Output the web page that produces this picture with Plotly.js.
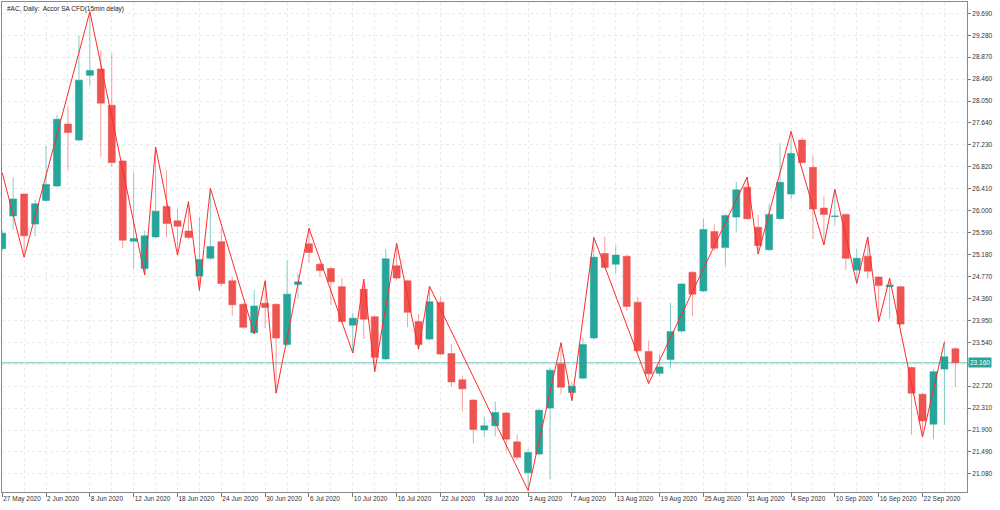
<!DOCTYPE html>
<html><head><meta charset="utf-8">
<script src="https://cdn.plot.ly/plotly-3.0.1.min.js"></script>
<style>html,body{margin:0;padding:0;background:#fff;}#chart{width:1000px;height:510px;}</style>
</head><body><div id="chart"></div>
<script>
const chartTitle = "#AC, Daily:  Accor SA CFD(15min delay)";
const dates = [
"27 May 2020","28 May 2020","29 May 2020",
"1 Jun 2020","2 Jun 2020","3 Jun 2020","4 Jun 2020","5 Jun 2020",
"8 Jun 2020","9 Jun 2020","10 Jun 2020","11 Jun 2020","12 Jun 2020",
"15 Jun 2020","16 Jun 2020","17 Jun 2020","18 Jun 2020","19 Jun 2020",
"22 Jun 2020","23 Jun 2020","24 Jun 2020","25 Jun 2020","26 Jun 2020",
"29 Jun 2020","30 Jun 2020","1 Jul 2020","2 Jul 2020","3 Jul 2020",
"6 Jul 2020","7 Jul 2020","8 Jul 2020","9 Jul 2020","10 Jul 2020",
"13 Jul 2020","14 Jul 2020","15 Jul 2020","16 Jul 2020","17 Jul 2020",
"20 Jul 2020","21 Jul 2020","22 Jul 2020","23 Jul 2020","24 Jul 2020",
"27 Jul 2020","28 Jul 2020","29 Jul 2020","30 Jul 2020","31 Jul 2020",
"3 Aug 2020","4 Aug 2020","5 Aug 2020","6 Aug 2020","7 Aug 2020",
"10 Aug 2020","11 Aug 2020","12 Aug 2020","13 Aug 2020","14 Aug 2020",
"17 Aug 2020","18 Aug 2020","19 Aug 2020","20 Aug 2020","21 Aug 2020",
"24 Aug 2020","25 Aug 2020","26 Aug 2020","27 Aug 2020","28 Aug 2020",
"31 Aug 2020","1 Sep 2020","2 Sep 2020","3 Sep 2020","4 Sep 2020",
"7 Sep 2020","8 Sep 2020","9 Sep 2020","10 Sep 2020","11 Sep 2020",
"14 Sep 2020","15 Sep 2020","16 Sep 2020","17 Sep 2020","18 Sep 2020",
"21 Sep 2020","22 Sep 2020","23 Sep 2020","24 Sep 2020","25 Sep 2020"];
const openPrices = [25.29,25.90,26.31,25.75,26.19,26.46,27.62,27.32,28.53,28.65,27.97,26.93,25.43,24.92,25.51,26.08,25.81,25.62,24.78,25.11,25.42,24.69,24.25,23.72,24.27,24.25,23.50,24.62,25.38,25.00,24.92,24.58,23.86,24.53,24.02,23.23,24.97,24.69,23.93,23.60,24.29,23.33,22.84,22.46,21.90,21.98,22.22,21.68,21.10,21.45,22.31,23.14,22.60,22.87,23.62,25.20,25.00,25.15,24.29,23.37,22.96,23.22,23.75,24.85,24.50,25.61,25.31,25.88,26.44,25.69,25.27,25.85,26.31,27.32,26.81,26.05,25.89,25.93,24.89,25.15,24.76,24.58,24.58,23.07,22.57,22.01,23.04,23.42];
const highPrices = [25.63,26.62,26.33,26.20,27.21,27.79,27.94,29.28,29.71,29.00,28.94,26.95,26.72,25.63,27.19,26.76,26.03,26.17,25.88,26.42,25.67,24.77,24.27,24.52,24.69,24.27,25.07,24.82,25.67,25.02,24.94,24.74,24.09,24.72,24.04,25.28,25.39,24.71,24.07,24.59,24.39,23.51,22.91,22.48,22.14,22.44,22.24,21.81,21.55,22.30,23.07,23.53,22.79,23.62,25.50,25.51,25.35,25.17,24.38,23.57,23.32,24.28,24.64,24.87,25.85,25.75,25.93,26.54,26.63,25.92,26.13,27.26,27.48,27.37,27.04,26.28,26.40,25.95,25.28,25.51,24.77,24.74,24.60,23.09,22.59,23.04,23.55,23.45];
const lowPrices = [25.25,25.65,25.13,25.53,26.17,26.44,26.77,27.30,28.33,27.01,26.82,25.30,24.92,24.80,25.48,25.50,25.17,25.47,24.51,25.08,24.59,24.04,23.79,23.70,23.81,22.59,23.47,24.36,25.02,24.76,24.24,23.90,23.34,23.60,22.99,23.21,24.70,23.82,23.41,23.58,23.30,22.71,22.26,21.65,21.77,21.78,21.50,21.34,20.77,21.43,20.98,22.57,22.45,22.85,23.60,24.92,24.83,24.13,23.36,22.77,22.90,23.05,23.73,24.03,24.48,25.25,24.97,25.61,25.83,25.19,25.25,25.82,26.21,26.88,25.47,25.36,25.73,24.89,24.64,24.74,23.93,23.99,23.85,21.81,21.77,21.73,22.00,22.70];
const closePrices = [25.58,26.22,25.53,26.13,26.49,27.71,27.46,28.44,28.62,28.01,26.90,25.45,25.48,25.53,25.99,25.76,25.71,25.50,25.09,25.33,24.64,24.24,23.82,24.22,24.19,23.62,24.44,24.67,25.22,24.88,24.67,23.93,23.99,23.97,23.26,25.10,24.74,24.10,23.50,24.30,23.32,22.80,22.67,21.91,21.98,22.23,21.73,21.39,21.48,22.27,23.02,22.70,22.72,23.50,25.13,24.94,25.17,24.21,23.38,22.95,23.08,23.74,24.63,24.44,25.65,25.30,25.91,26.39,25.85,25.35,25.93,26.53,27.07,26.90,26.03,25.93,25.90,25.11,25.11,24.87,24.60,24.61,23.88,22.59,22.07,22.99,23.27,23.16];
const zigzagDates = ["27 May 2020","29 May 2020","8 Jun 2020","15 Jun 2020","16 Jun 2020","18 Jun 2020","19 Jun 2020","22 Jun 2020","23 Jun 2020","29 Jun 2020","30 Jun 2020","1 Jul 2020","6 Jul 2020","10 Jul 2020","13 Jul 2020","14 Jul 2020","16 Jul 2020","20 Jul 2020","21 Jul 2020","3 Aug 2020","6 Aug 2020","7 Aug 2020","11 Aug 2020","18 Aug 2020","31 Aug 2020","1 Sep 2020","4 Sep 2020","9 Sep 2020","10 Sep 2020","14 Sep 2020","15 Sep 2020","16 Sep 2020","17 Sep 2020","22 Sep 2020","24 Sep 2020"];
const zigzagPrices = [26.71,25.13,29.72,24.80,27.19,25.17,26.17,24.51,26.42,23.70,24.69,22.59,25.67,23.34,24.72,22.99,25.39,23.41,24.59,20.77,23.53,22.45,25.50,22.77,26.63,25.19,27.48,25.36,26.40,24.64,25.51,23.93,24.74,21.77,23.55];
const yTickValues = [29.69,29.28,28.87,28.46,28.05,27.64,27.23,26.82,26.41,26.00,25.59,25.18,24.77,24.36,23.95,23.54,23.13,22.72,22.31,21.90,21.49,21.08];
const yTickLabels = ["29.690","29.280","28.870","28.460","28.050","27.640","27.230","26.820","26.410","26.000","25.590","25.180","24.770","24.360","23.950","23.540","","22.720","22.310","21.900","21.490","21.080"];
const lastPrice = 23.16;
const lastPriceLabel = "23.160";

const barIndex = dates.map((d, i) => i);
const xTickVals = barIndex.filter(i => i % 4 === 0);
const xTickText = xTickVals.map(i => dates[i]);
const zigzagX = zigzagDates.map(d => dates.indexOf(d));

const GREEN = '#26a69a', RED = '#ef5350';
const font = {family: 'Liberation Sans, Arial, sans-serif', size: 6.5, color: '#333'};

const traces = [
  {
    type: 'candlestick', x: barIndex, open: openPrices, high: highPrices, low: lowPrices, close: closePrices,
    increasing: {line: {color: 'rgba(38,166,154,0.55)', width: 1}, fillcolor: GREEN},
    decreasing: {line: {color: 'rgba(239,83,80,0.55)', width: 1}, fillcolor: RED},
    whiskerwidth: 0, hoverinfo: 'none', showlegend: false
  },
  {
    type: 'scatter', mode: 'lines', x: zigzagX, y: zigzagPrices,
    line: {color: '#ff2a2a', width: 1}, hoverinfo: 'none', showlegend: false
  }
];

const gridStyle = {gridcolor: '#ebebeb', griddash: 'dot', gridwidth: 1};

const layout = {
  width: 1000, height: 510,
  margin: {l: 2, r: 33, t: 2, b: 18, pad: 0},
  paper_bgcolor: '#ffffff', plot_bgcolor: '#ffffff',
  showlegend: false,
  boxgap: 0.36, boxgroupgap: 0,
  font: font,
  xaxis: Object.assign({
    type: 'linear', range: [-0.02, 88.06], fixedrange: true,
    tickmode: 'array', tickvals: xTickVals, ticktext: xTickText,
    ticks: 'outside', ticklen: 4, tickcolor: '#777', tickwidth: 1,
    ticklabelposition: 'outside right', tickangle: 0, automargin: false,
    tickfont: font, showgrid: true,
    minor: Object.assign({tickmode: 'linear', tick0: 0, dtick: 2, showgrid: true, ticks: ''}, gridStyle),
    showline: true, linecolor: '#8a8a8a', linewidth: 1, mirror: true,
    zeroline: false, rangeslider: {visible: false}
  }, gridStyle),
  yaxis: Object.assign({
    side: 'right', range: [20.742, 29.901], fixedrange: true, automargin: false,
    tickmode: 'array', tickvals: yTickValues, ticktext: yTickLabels,
    ticks: 'outside', ticklen: 3, tickcolor: '#777', tickwidth: 1,
    tickfont: font, showgrid: true,
    showline: true, linecolor: '#8a8a8a', linewidth: 1, mirror: true,
    zeroline: false
  }, gridStyle),
  shapes: [{
    type: 'line', layer: 'below', xref: 'paper', x0: 0, x1: 1, yref: 'y', y0: lastPrice, y1: lastPrice,
    line: {color: '#93d7cf', width: 1.5}
  }],
  annotations: [
    {xref: 'paper', yref: 'paper', x: 0, y: 1, xanchor: 'left', yanchor: 'top', xshift: 3, yshift: -1,
     text: chartTitle, showarrow: false, font: {family: font.family, size: 6.5, color: '#222'}},
    {xref: 'paper', yref: 'y', x: 1, y: lastPrice, xanchor: 'left', yanchor: 'middle', xshift: 1,
     text: lastPriceLabel, showarrow: false, bgcolor: GREEN, borderpad: 1,
     font: {family: font.family, size: 6.5, color: '#ffffff'}}
  ]
};

Plotly.newPlot('chart', traces, layout, {staticPlot: true, displayModeBar: false});
</script>
</body></html>
